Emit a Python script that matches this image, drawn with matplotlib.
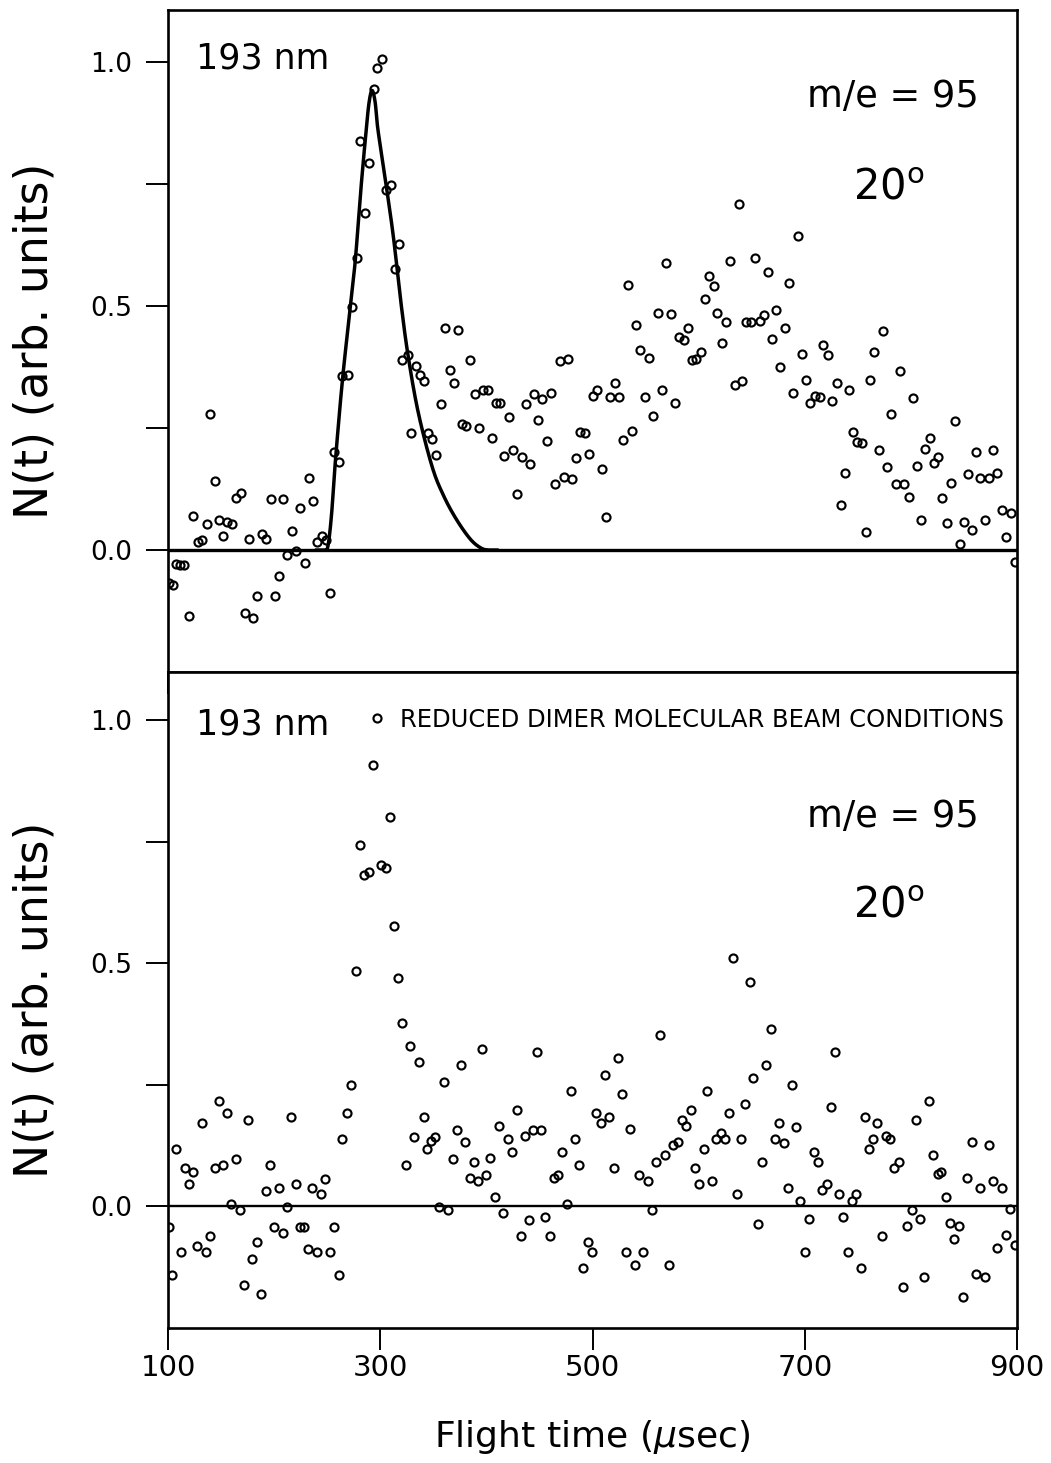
import numpy as np
import matplotlib
matplotlib.use("Agg")
import matplotlib.pyplot as plt
from matplotlib import font_manager
from matplotlib.lines import Line2D

# ---- data ----
t_top = [100.5, 105, 107.5, 111, 115, 119.6, 123.7, 128, 132, 136.3, 140, 144, 148, 152,
         155.8, 160, 164.4, 168.5, 172.6, 176.3, 180.5, 184.2, 188.3, 192.8, 196.9, 200.6,
         204.7, 208.8, 212.6, 216.7, 220.5, 224.6, 228.7, 233.1, 236.9, 240, 244.8, 248.9,
         252.7, 256.2, 261, 264, 269.4, 273.2, 278, 280.5, 285.8, 289.3, 294, 297.2, 301.6,
         305, 310.4, 313.6, 317.4, 320.9, 326.2, 329.4, 333.5, 337.3, 341.4, 345.1, 349.2,
         353, 357.1, 361.2, 365.3, 369.1, 373.2, 377.3, 381.1, 384.9, 389.6, 393.4, 396.8,
         401.6, 405.4, 409.5, 413.2, 417, 421.1, 425.2, 429, 433.1, 436.9, 440.7, 444.8,
         448.9, 452.7, 456.8, 460.6, 464.7, 469.1, 473.2, 477, 481.1, 484.9, 488.3, 492.7,
         496.8, 500.6, 504.7, 508.8, 512.9, 516.7, 521.1, 525.2, 529, 533.1, 536.9, 541.3,
         545.1, 549.2, 553.3, 557.1, 561.5, 565.3, 569.4, 573.5, 577.3, 581.4, 585.8, 589.9,
         593.7, 597.8, 601.9, 605.7, 609.8, 614.2, 617.7, 622.1, 626.2, 630, 634.1, 638.2,
         640.7, 644.8, 649.2, 653.3, 657.4, 661.2, 665.3, 669.1, 673.2, 677, 681.1, 685.5,
         689, 693.4, 697.5, 701.6, 705.4, 709.5, 713.9, 717.4, 721.8, 725.9, 730, 733.8,
         737.5, 741.6, 745.7, 749.5, 754.3, 757.7, 761.8, 765.6, 769.7, 773.8, 777.9, 781.7,
         785.8, 789.8, 793.7, 797.8, 801.6, 805.7, 809.5, 813.6, 817.7, 821.5, 825.9, 829.7,
         834.1, 837.9, 842, 846.1, 849.8, 853.6, 857.7, 861.8, 865.6, 869.4, 873.5, 877.6,
         881.4, 885.8, 889.9, 894, 897.8]
n_top = [-0.068, -0.072, -0.028, -0.031, -0.031, -0.135, 0.069, 0.016, 0.020, 0.053, 0.279,
         0.141, 0.061, 0.028, 0.058, 0.053, 0.107, 0.117, -0.129, 0.022, -0.140, -0.095,
         0.032, 0.022, 0.105, -0.095, -0.053, 0.105, -0.011, 0.040, -0.002, 0.087, -0.027,
         0.148, 0.101, 0.016, 0.029, 0.020, -0.088, 0.201, 0.181, 0.356, 0.359, 0.499, 0.599,
         0.838, 0.690, 0.793, 0.945, 0.989, 1.007, 0.739, 0.748, 0.577, 0.628, 0.390, 0.399,
         0.240, 0.377, 0.359, 0.347, 0.240, 0.228, 0.194, 0.299, 0.456, 0.370, 0.342, 0.452,
         0.258, 0.255, 0.389, 0.319, 0.251, 0.329, 0.328, 0.229, 0.302, 0.302, 0.193, 0.272,
         0.206, 0.115, 0.191, 0.299, 0.176, 0.319, 0.266, 0.309, 0.224, 0.321, 0.135, 0.387,
         0.150, 0.391, 0.145, 0.188, 0.241, 0.239, 0.197, 0.316, 0.329, 0.167, 0.067, 0.314,
         0.343, 0.314, 0.225, 0.544, 0.244, 0.462, 0.410, 0.314, 0.394, 0.275, 0.486, 0.328,
         0.589, 0.483, 0.301, 0.437, 0.430, 0.455, 0.389, 0.391, 0.406, 0.515, 0.562, 0.541,
         0.485, 0.425, 0.468, 0.593, 0.339, 0.710, 0.346, 0.468, 0.468, 0.598, 0.470, 0.482,
         0.569, 0.432, 0.493, 0.376, 0.456, 0.547, 0.321, 0.644, 0.402, 0.348, 0.301, 0.316,
         0.313, 0.421, 0.400, 0.306, 0.342, 0.093, 0.157, 0.329, 0.242, 0.221, 0.219, 0.036,
         0.348, 0.406, 0.205, 0.449, 0.171, 0.279, 0.135, 0.367, 0.135, 0.108, 0.311, 0.172,
         0.061, 0.208, 0.229, 0.178, 0.191, 0.107, 0.056, 0.138, 0.265, 0.012, 0.058, 0.155,
         0.042, 0.200, 0.147, 0.061, 0.147, 0.205, 0.157, 0.082, 0.026, 0.075, -0.025]

t_bot = [100.5, 104.1, 107.8, 111.9, 115.7, 120.1, 123.8, 127.6, 131.7, 135.8, 139.5, 143.9,
         148, 152, 155.8, 159.6, 164.3, 167.7, 171.5, 175.6, 179.6, 183.4, 187.2, 191.9,
         195.9, 199.7, 204.4, 208.5, 212.2, 216.3, 220.4, 224.1, 228.5, 232.3, 236.1, 240.1,
         244.2, 248.3, 252.4, 256.4, 260.8, 264.3, 268.7, 272.4, 276.8, 280.6, 284.3, 289,
         293.1, 300.6, 305.3, 308.8, 312.6, 316.3, 320.7, 324.2, 328.2, 332, 336.1, 340.8,
         343.9, 347.7, 351.7, 355.8, 360.2, 363.7, 368.1, 372.2, 376, 380.1, 384.2, 388,
         392.1, 395.9, 400, 403.8, 407.9, 412, 415.8, 420.2, 424.3, 428.4, 432.2, 436.3,
         440.1, 444.2, 447.6, 451.1, 455.5, 459.6, 463.7, 467.5, 471.6, 475.7, 479.5, 483.6,
         487.7, 491.5, 495.6, 499.7, 503.5, 507.9, 511.4, 515.8, 519.9, 524, 527.8, 531.9,
         535.6, 539.7, 544.2, 548, 552.1, 555.8, 560.3, 564, 568.1, 572.2, 576.3, 580.4,
         584.2, 588.3, 592.4, 596.2, 600.3, 604.7, 608.2, 612.6, 616.7, 620.8, 624.6, 628.4,
         632.8, 636.6, 640.4, 643.8, 648, 651.7, 655.8, 659.6, 663.7, 668.1, 671.9, 675.7,
         680.1, 684.2, 688, 692.1, 695.9, 700.3, 704.1, 708.5, 712.3, 716.1, 720.5, 724.6,
         728.4, 732.5, 736.3, 740.4, 744.8, 748.6, 752.7, 756.5, 760.6, 764.7, 768.5, 772.6,
         776.3, 780.4, 784.5, 788.6, 792.4, 796.8, 800.6, 804.7, 808.8, 812.6, 816.7, 820.8,
         825.2, 828.4, 833.1, 837.2, 841, 845.1, 849.2, 853, 857.4, 861.5, 865.3, 869.4,
         873.5, 877.6, 881.4, 885.5, 889.3, 893.4, 897.8]
n_bot = [-0.043, -0.141, 0.117, -0.095, 0.078, 0.045, 0.071, -0.082, 0.171, -0.095, -0.062,
         0.078, 0.217, 0.085, 0.191, 0.004, 0.097, -0.009, -0.162, 0.178, -0.108, -0.075,
         -0.182, 0.030, 0.084, -0.043, 0.037, -0.055, -0.002, 0.184, 0.045, -0.043, -0.043,
         -0.089, 0.037, -0.095, 0.024, 0.056, -0.095, -0.043, -0.141, 0.137, 0.191, 0.250,
         0.483, 0.742, 0.681, 0.688, 0.907, 0.702, 0.695, 0.801, 0.577, 0.470, 0.376, 0.084,
         0.330, 0.143, 0.297, 0.184, 0.117, 0.134, 0.143, -0.002, 0.256, -0.009, 0.097, 0.156,
         0.291, 0.132, 0.058, 0.091, 0.051, 0.324, 0.064, 0.098, 0.019, 0.165, -0.015, 0.137,
         0.111, 0.197, -0.062, 0.144, -0.029, 0.157, 0.317, 0.157, -0.022, -0.062, 0.058,
         0.064, 0.111, 0.005, 0.237, 0.137, 0.084, -0.128, -0.075, -0.095, 0.191, 0.171,
         0.270, 0.184, 0.078, 0.304, 0.230, -0.095, 0.158, -0.121, 0.064, -0.095, 0.051,
         -0.008, 0.091, 0.351, 0.105, -0.121, 0.125, 0.132, 0.178, 0.165, 0.198, 0.078, 0.045,
         0.118, 0.237, 0.051, 0.137, 0.151, 0.137, 0.192, 0.510, 0.025, 0.137, 0.210, 0.462,
         0.263, -0.036, 0.091, 0.290, 0.364, 0.137, 0.170, 0.130, 0.038, 0.250, 0.163, 0.011,
         -0.095, -0.027, 0.111, 0.091, 0.032, 0.045, 0.204, 0.317, 0.025, -0.022, -0.095,
         0.011, 0.025, -0.128, 0.184, 0.117, 0.137, 0.170, -0.062, 0.145, 0.137, 0.078, 0.091,
         -0.167, -0.041, -0.008, 0.177, -0.027, -0.147, 0.217, 0.105, 0.066, 0.071, 0.018,
         -0.034, -0.067, -0.041, -0.187, 0.058, 0.131, -0.140, 0.038, -0.147, 0.125, 0.052,
         -0.087, 0.038, -0.060, -0.007, -0.080]

# fitted curve (top panel), knots
fit_t = [240, 247, 250.5, 254, 258, 264.7, 271.9, 276.7, 282, 286.8, 289.5, 292.3, 295.2,
         297.8, 305.7, 312.5, 319.9, 326.2, 335.7, 349, 360, 372, 385, 395, 402, 410]
fit_n = [0.0, 0.0, 0.006, 0.07, 0.19, 0.356, 0.499, 0.599, 0.746, 0.862, 0.918, 0.942, 0.918,
         0.862, 0.746, 0.64, 0.50, 0.399, 0.283, 0.17, 0.11, 0.062, 0.022, 0.004, 0.0, 0.0]

xticks = [100, 300, 500, 700, 900]
yticks = [0.0, 0.5, 1.0]
ytick_labels = ["0.0", "0.5", "1.0"]


def catmull_rom(x, y, n=20):
    x = np.asarray(x, float)
    y = np.asarray(y, float)
    px = np.concatenate([[2 * x[0] - x[1]], x, [2 * x[-1] - x[-2]]])
    py = np.concatenate([[y[0]], y, [y[-1]]])
    xs, ys = [], []
    s = np.linspace(0, 1, n, endpoint=False)
    for i in range(1, len(px) - 2):
        for arr, out in ((px, xs), (py, ys)):
            p0, p1, p2, p3 = arr[i - 1], arr[i], arr[i + 1], arr[i + 2]
            out.append(0.5 * (2 * p1 + (-p0 + p2) * s + (2 * p0 - 5 * p1 + 4 * p2 - p3) * s ** 2
                              + (-p0 + 3 * p1 - 3 * p2 + p3) * s ** 3))
    xs.append([x[-1]])
    ys.append([y[-1]])
    return np.concatenate(xs), np.clip(np.concatenate(ys), 0, None)


names = {f.name for f in font_manager.fontManager.ttflist}
tick_font = "Liberation Sans Narrow" if "Liberation Sans Narrow" in names else "DejaVu Sans"
plt.rcParams["font.family"] = ["DejaVu Sans"]
plt.rcParams["mathtext.fontset"] = "dejavusans"

W, H = 1051, 1463
fig = plt.figure(figsize=(W / 100, H / 100), dpi=100)
left, right = 168, 1017
ax1 = fig.add_axes([left / W, 1 - 672 / H, (right - left) / W, (672 - 10) / H])
ax2 = fig.add_axes([left / W, 1 - 1328 / H, (right - left) / W, (1328 - 672) / H])

mk = dict(ls="none", marker="o", ms=5.8, mfc="none", mec="black", mew=1.55)

ax1.plot(t_top, n_top, **mk, zorder=3)
ft, fn = catmull_rom(fit_t, fit_n)
ax1.plot(ft, fn, color="black", lw=2.5, zorder=2)
ax1.axhline(0, color="black", lw=2.4, zorder=1)

ax2.plot(t_bot, n_bot, **mk, zorder=3)
ax2.axhline(0, color="black", lw=1.7, zorder=1)

ax1.set_ylim(-0.25, 1.107)
ax2.set_ylim(-0.251, 1.099)

for ax in (ax1, ax2):
    ax.set_xlim(100, 900)
    ax.set_xticks(xticks)
    ax.set_yticks(yticks)
    ax.set_yticks([0.25, 0.75], minor=True)
    ax.set_yticklabels(ytick_labels, fontsize=19, family=tick_font)
    ax.tick_params(axis="y", which="both", direction="out", length=16, width=1.4, pad=10)
    ax.tick_params(axis="x", direction="out", length=16, width=1.4, pad=3)
    for sp in ax.spines.values():
        sp.set_linewidth(1.9)
    ax.set_ylabel("N(t) (arb. units)", fontsize=33)

ax1.tick_params(axis="x", labelbottom=False)
ax2.set_xticklabels([str(v) for v in xticks], fontsize=21, family=tick_font)
ax2.set_xlabel(r"Flight time ($\mu$sec)", fontsize=26, labelpad=26)

ax1.yaxis.set_label_coords(-0.13, 0.5)
ax2.yaxis.set_label_coords(-0.13, 0.5)

# annotations
ax1.text(0.033, 0.912, "193 nm", transform=ax1.transAxes, fontsize=25, va="baseline")
ax1.text(0.955, 0.853, "m/e = 95", transform=ax1.transAxes, fontsize=26.5, va="baseline",
         ha="right")
ax1.text(0.807, 0.714, r"20$^{\mathregular{o}}$", transform=ax1.transAxes, fontsize=30,
         va="baseline")

ax2.text(0.033, 0.905, "193 nm", transform=ax2.transAxes, fontsize=25, va="baseline")
ax2.text(0.955, 0.764, "m/e = 95", transform=ax2.transAxes, fontsize=26.5, va="baseline",
         ha="right")
ax2.text(0.807, 0.625, r"20$^{\mathregular{o}}$", transform=ax2.transAxes, fontsize=30,
         va="baseline")

handle = Line2D([], [], **mk)
ax2.legend([handle], ["REDUCED DIMER MOLECULAR BEAM CONDITIONS"], loc="center left",
           bbox_to_anchor=(0.233, 0.927), frameon=False, fontsize=17.5, borderpad=0,
           borderaxespad=0, handlelength=0.9, handletextpad=0.5, numpoints=1)

fig.savefig("out.png", dpi=100)
